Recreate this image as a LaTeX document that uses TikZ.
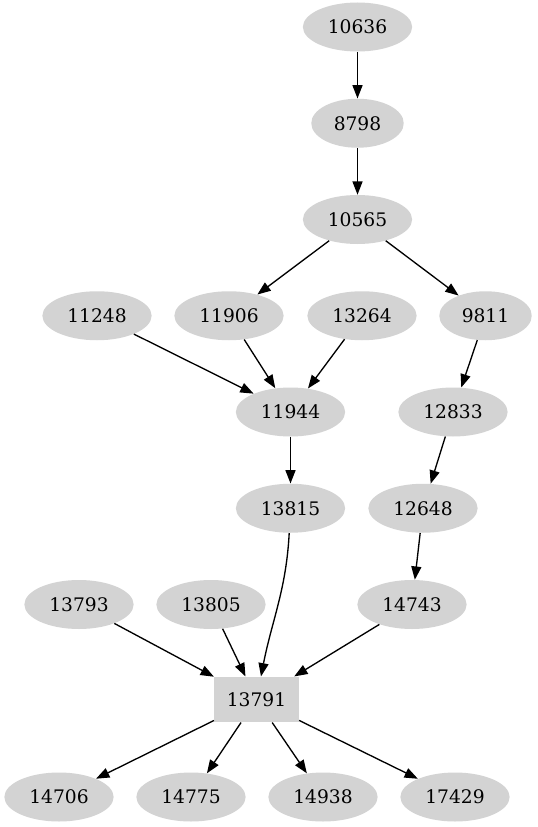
\documentclass[tikz,border=0pt]{standalone}
\usepackage{fontspec}
\setmainfont{DejaVu Serif}
\usepackage{tikz}
\usetikzlibrary{arrows.meta,shapes.geometric}
\definecolor{nfill}{HTML}{D3D3D3}
\tikzset{
  >={Triangle[length=10pt,width=7.5pt]},
  vtx/.style={ellipse,fill=nfill,inner xsep=6.7pt,inner ysep=0pt,minimum height=36.75pt,font=\fontsize{14}{16}\selectfont},
  hub/.style={rectangle,fill=nfill,inner sep=0pt,minimum width=63.5pt,minimum height=34.2pt,font=\fontsize{14}{16}\selectfont},
  arr/.style={->,draw=black,line width=1pt},
}
\begin{document}
\begin{tikzpicture}[x=0.75pt,y=0.75pt]
\useasboundingbox (0,0) rectangle (537,-827);
% ranks, top to bottom
\node[vtx] (n10636) at (357.5,-27) {10636};
\node[vtx] (n8798) at (357.5,-123.25) {8798};
\node[vtx] (n10565) at (357.5,-219.5) {10565};
\node[vtx] (n11248) at (97,-315.75) {11248};
\node[vtx] (n11906) at (229,-315.75) {11906};
\node[vtx] (n13264) at (362,-315.75) {13264};
\node[vtx] (n9811) at (485.5,-315.75) {9811};
\node[vtx] (n11944) at (290.5,-412) {11944};
\node[vtx] (n12833) at (453,-412) {12833};
\node[vtx] (n13815) at (290.5,-508.25) {13815};
\node[vtx] (n12648) at (423,-508.25) {12648};
\node[vtx] (n13793) at (79,-604.5) {13793};
\node[vtx] (n13805) at (211,-604.5) {13805};
\node[vtx] (n14743) at (412,-604.5) {14743};
\node[hub] (n13791) at (256.5,-699.5) {13791};
\node[vtx] (n14706) at (59,-797) {14706};
\node[vtx] (n14775) at (191,-797) {14775};
\node[vtx] (n14938) at (323,-797) {14938};
\node[vtx] (n17429) at (455,-797) {17429};
% edges
\draw[arr] (n10636) -- (n8798);
\draw[arr] (n8798) -- (n10565);
\draw[arr] (n10565) -- (n11906);
\draw[arr] (n10565) -- (n9811);
\draw[arr] (n11248) -- (n11944);
\draw[arr] (n11906) -- (n11944);
\draw[arr] (n13264) -- (n11944);
\draw[arr] (n9811) -- (n12833);
\draw[arr] (n11944) -- (n13815);
\draw[arr] (n12833) -- (n12648);
\draw[arr] (n12648) -- (n14743);
\draw[arr] (n13815) to[out=-93,in=79] (n13791);
\draw[arr] (n13793) -- (n13791);
\draw[arr] (n13805) -- (n13791);
\draw[arr] (n14743) -- (n13791);
\draw[arr] (n13791) -- (n14706);
\draw[arr] (n13791) -- (n14775);
\draw[arr] (n13791) -- (n14938);
\draw[arr] (n13791) -- (n17429);
\end{tikzpicture}
\end{document}
